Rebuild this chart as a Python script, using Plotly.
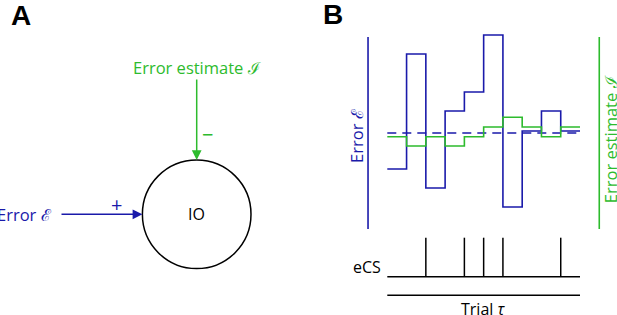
import plotly.graph_objects as go

# ---- data (panel B) ----
trials = list(range(11))                      # trial boundaries 0..10
error_vals = [-3.6, 7.9, -5.5, 2.2, 4.1, 9.8, -7.4, 0.2, 2.2, 0.2]
estimate_vals = [-0.37, -1.3, -0.37, -1.3, -0.37, 0.6, 1.57, 0.6, -0.37, 0.6]
error_mean = 0.0
ecs_times = [2, 4, 5, 6, 9]                    # eCS spikes at trial boundaries

BLUE = "#1a1aaa"
GREEN = "#2dbb2d"
FONT = "Open Sans"
W, H = 617, 315

fig = go.Figure()

# ---- panel B traces (xaxis2 / yaxis2 in data units) ----
ecs_x, ecs_y = [], []
for t in ecs_times:
    ecs_x += [t, t, None]
    ecs_y += [-14.37, -10.47, None]
fig.add_trace(go.Scatter(x=ecs_x, y=ecs_y, mode="lines",
                         line=dict(color="black", width=1.5),
                         xaxis="x2", yaxis="y2", hoverinfo="skip"))
fig.add_trace(go.Scatter(x=[0, 10, None, 0, 10], y=[-14.37, -14.37, None, -16.23, -16.23],
                         mode="lines", line=dict(color="black", width=1.5),
                         xaxis="x2", yaxis="y2", hoverinfo="skip"))
# vertical scale lines
fig.add_trace(go.Scatter(x=[-1.0, -1.0], y=[-9.6, 9.6], mode="lines",
                         line=dict(color=BLUE, width=1.6), xaxis="x2", yaxis="y2", hoverinfo="skip"))
fig.add_trace(go.Scatter(x=[11.0, 11.0], y=[-9.6, 9.6], mode="lines",
                         line=dict(color=GREEN, width=1.6), xaxis="x2", yaxis="y2", hoverinfo="skip"))
# mean dashed
fig.add_trace(go.Scatter(x=[0, 10], y=[error_mean, error_mean], mode="lines",
                         line=dict(color=BLUE, width=1.6, dash="9px,6px"),
                         xaxis="x2", yaxis="y2", hoverinfo="skip"))
fig.add_trace(go.Scatter(x=trials, y=error_vals + [error_vals[-1]], mode="lines",
                         line=dict(color=BLUE, width=1.6, shape="hv"),
                         xaxis="x2", yaxis="y2", hoverinfo="skip"))
fig.add_trace(go.Scatter(x=trials, y=estimate_vals + [estimate_vals[-1]], mode="lines",
                         line=dict(color=GREEN, width=1.6, shape="hv"),
                         xaxis="x2", yaxis="y2", hoverinfo="skip"))

# ---- panel A diagram (pixel coordinates, xaxis / yaxis) ----
cx, cy, r = 196.7, 214.3, 54.3
fig.add_shape(type="circle", xref="x", yref="y", x0=cx - r, x1=cx + r, y0=cy - r, y1=cy + r,
              line=dict(color="black", width=1.5))

ann = []
# arrows
ann.append(dict(x=cx, y=cy - r, ax=cx, ay=78, xref="x", yref="y", axref="x", ayref="y",
                showarrow=True, arrowhead=2, arrowsize=1.3, arrowwidth=1.5, arrowcolor=GREEN,
                standoff=0, text=""))
ann.append(dict(x=cx - r, y=cy, ax=60, ay=cy, xref="x", yref="y", axref="x", ayref="y",
                showarrow=True, arrowhead=2, arrowsize=1.3, arrowwidth=1.5, arrowcolor=BLUE,
                standoff=0, text=""))
def txt(x, y, s, color="black", size=16, xanchor="center", xref="x", yref="y", angle=0, bold=False):
    ann.append(dict(x=x, y=y, xref=xref, yref=yref, text=s, showarrow=False, xanchor=xanchor,
                    yanchor="middle", textangle=angle,
                    font=dict(family=("Liberation Sans" if bold else FONT), size=size, color=color)))

txt(196.5, 67.5, "Error estimate \u2110", GREEN, 16.5)
txt(207.5, 134, "\u2212", GREEN, 20)
txt(116, 204.5, "+", BLUE, 20)
txt(54, 214.5, "Error \u2130", BLUE, 16.5, xanchor="right")
txt(cx, cy, "IO", "black", 16)
txt(21, 15, "<b>A</b>", "black", 28, bold=True)
txt(332.5, 14, "<b>B</b>", "black", 28, bold=True)

# panel B texts in data units
txt(-1.63, -0.2, "Error \u2130", BLUE, 16.5, xref="x2", yref="y2", angle=-90)
txt(11.59, -0.65, "Error estimate \u2110", GREEN, 16.5, xref="x2", yref="y2", angle=-90)
txt(-0.2, -13.4, "eCS", "black", 16, xanchor="right", xref="x2", yref="y2")
txt(4.96, -17.6, "Trial <i>\u03c4</i>", "black", 16, xref="x2", yref="y2")

x2_lo = (340 - 387.3) / 19.27
x2_hi = (617 - 387.3) / 19.27

fig.update_layout(
    width=W, height=H, margin=dict(l=0, r=0, t=0, b=0),
    paper_bgcolor="white", plot_bgcolor="rgba(0,0,0,0)", showlegend=False,
    annotations=ann,
    xaxis=dict(domain=[0, 1], range=[0, W], visible=False, fixedrange=True),
    yaxis=dict(domain=[0, 1], range=[H, 0], visible=False, fixedrange=True),
    xaxis2=dict(domain=[340 / W, 1], range=[x2_lo, x2_hi], visible=False, anchor="y2", fixedrange=True),
    yaxis2=dict(domain=[0, 1], range=[-18.2, 13.3], visible=False, anchor="x2", fixedrange=True),
)

fig.write_html("out.html", config={"displayModeBar": False},
               post_script="document.body.style.margin='0';document.body.style.overflow='hidden';")
